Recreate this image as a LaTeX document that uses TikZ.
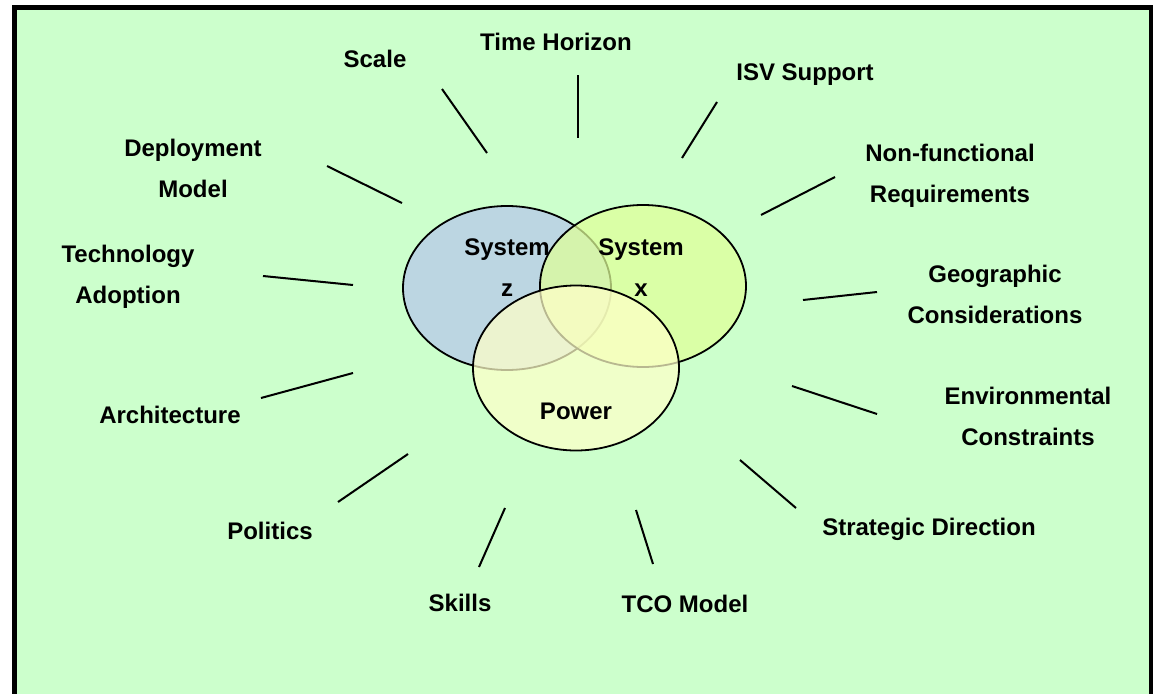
\documentclass[tikz,border=0pt]{standalone}
\usepackage{fontspec}
\setmainfont{Liberation Sans}
\usetikzlibrary{shapes.geometric}
\definecolor{bggreen}{HTML}{CCFFCC}
\definecolor{zblue}{HTML}{BCD6E2}
\definecolor{xgreen}{HTML}{E0FF98}
\definecolor{pyellow}{HTML}{FFFFC8}
\tikzset{
  lbl/.style={font=\fontsize{24}{41}\selectfont\bfseries, align=center, anchor=base, inner sep=0pt},
  spoke/.style={line width=2pt, line cap=butt},
  venn/.style={ellipse, draw=black, line width=1.8pt, inner sep=0pt},
}
\begin{document}
\begin{tikzpicture}[x=1pt,y=-1pt]
\useasboundingbox (0,0) rectangle (1153,693);
\fill[white] (0,0) rectangle (1153,693);
\draw[line width=5pt, fill=bggreen] (14.5,7.5) rectangle (1151,720);

% Venn ellipses
\node[venn, fill=zblue, minimum width=208pt, minimum height=164pt] (sz) at (507,288) {};
\node[venn, fill=xgreen, fill opacity=0.72, minimum width=206pt, minimum height=162pt] (sx) at (643,286) {};
\node[venn, fill=pyellow, fill opacity=0.72, minimum width=206pt, minimum height=165pt] (pw) at (576,368) {};

\node[lbl] (tz) at (507,296) {System\\z};
\node[lbl] (tx) at (641,296) {System\\x};
\node[lbl] (tp) at (576,419) {Power};

% Labels
\node[lbl] (scale) at (375,67) {Scale};
\node[lbl] (time) at (556,51) {Time Horizon};
\node[lbl] (isv) at (805,81) {ISV Support};
\node[lbl] (nfr) at (950,202) {Non-functional\\Requirements};
\node[lbl] (geo) at (995,323) {Geographic\\Considerations};
\node[lbl] (env) at (1028,445) {Environmental\\Constraints};
\node[lbl] (strat) at (929,535) {Strategic Direction};
\node[lbl] (tco) at (685,612) {TCO Model};
\node[lbl] (skills) at (460,611) {Skills};
\node[lbl] (pol) at (270,539) {Politics};
\node[lbl] (arch) at (170,423) {Architecture};
\node[lbl] (tech) at (128,303) {Technology\\Adoption};
\node[lbl] (dep) at (193,197) {Deployment\\Model};

% Spoke end points
\coordinate (scaleA) at (442,89);  \coordinate (scaleB) at (487,153);
\coordinate (timeA) at (578,75);   \coordinate (timeB) at (578,138);
\coordinate (isvA) at (717,102);   \coordinate (isvB) at (682,158);
\coordinate (nfrA) at (835,177);   \coordinate (nfrB) at (761,215);
\coordinate (geoA) at (877,292);   \coordinate (geoB) at (803,300);
\coordinate (envA) at (877,414);   \coordinate (envB) at (792,386);
\coordinate (stratA) at (796,508); \coordinate (stratB) at (740,460);
\coordinate (tcoA) at (653,564);   \coordinate (tcoB) at (636,510);
\coordinate (skillsA) at (479,567);\coordinate (skillsB) at (505,508);
\coordinate (polA) at (338,502);   \coordinate (polB) at (408,454);
\coordinate (archA) at (261,398);  \coordinate (archB) at (353,373);
\coordinate (techA) at (263,276);  \coordinate (techB) at (353,285);
\coordinate (depA) at (327,166);   \coordinate (depB) at (402,203);

\draw[spoke] (scaleA) -- (scaleB);
\draw[spoke, line width=2.7pt] (timeA) -- (timeB);
\draw[spoke] (isvA) -- (isvB);
\draw[spoke] (nfrA) -- (nfrB);
\draw[spoke] (geoA) -- (geoB);
\draw[spoke] (envA) -- (envB);
\draw[spoke] (stratA) -- (stratB);
\draw[spoke] (tcoA) -- (tcoB);
\draw[spoke] (skillsA) -- (skillsB);
\draw[spoke] (polA) -- (polB);
\draw[spoke] (archA) -- (archB);
\draw[spoke] (techA) -- (techB);
\draw[spoke] (depA) -- (depB);
\end{tikzpicture}
\end{document}
